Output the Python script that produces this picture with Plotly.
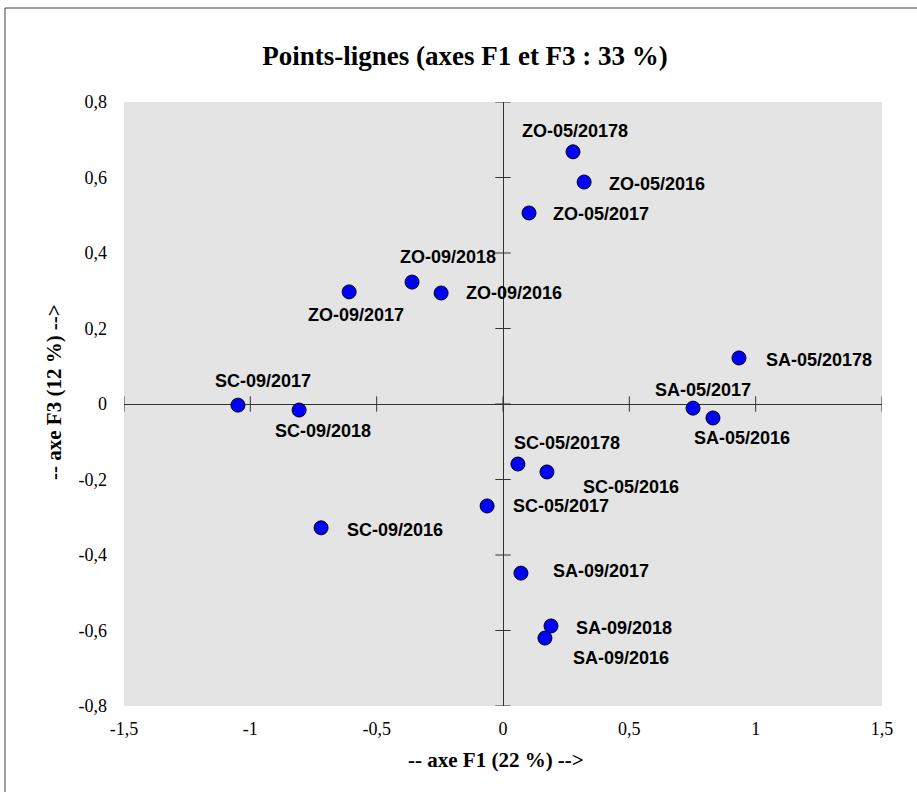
import plotly.graph_objects as go

labels = ["ZO-05/20178", "ZO-05/2016", "ZO-05/2017", "ZO-09/2018", "ZO-09/2016", "ZO-09/2017",
          "SA-05/20178", "SA-05/2017", "SA-05/2016", "SC-09/2017", "SC-09/2018",
          "SC-05/20178", "SC-05/2016", "SC-05/2017", "SC-09/2016",
          "SA-09/2017", "SA-09/2018", "SA-09/2016"]
f1 = [0.277, 0.321, 0.103, -0.360, -0.245, -0.609,
      0.934, 0.752, 0.831, -1.049, -0.807,
      0.059, 0.174, -0.063, -0.720,
      0.071, 0.190, 0.166]
f3 = [0.668, 0.588, 0.506, 0.323, 0.294, 0.297,
      0.122, -0.011, -0.037, -0.003, -0.016,
      -0.159, -0.180, -0.270, -0.328,
      -0.448, -0.588, -0.620]

x_ticks = [-1.5, -1, -0.5, 0, 0.5, 1, 1.5]
x_ticktext = ["-1,5", "-1", "-0,5", "0", "0,5", "1", "1,5"]
y_ticks = [-0.8, -0.6, -0.4, -0.2, 0, 0.2, 0.4, 0.6, 0.8]
y_ticktext = ["-0,8", "-0,6", "-0,4", "-0,2", "0", "0,2", "0,4", "0,6", "0,8"]

# label placement (anchor, pixel offsets)
label_pos = {
    "ZO-05/20178": ("center", 2, 21),
    "ZO-05/2016": ("left", 23, -2),
    "ZO-05/2017": ("left", 22, -1),
    "ZO-09/2018": ("center", 36, 25),
    "ZO-09/2016": ("left", 23, 0),
    "ZO-09/2017": ("center", 7, -23),
    "SA-05/20178": ("left", 25, -2),
    "SA-05/2017": ("center", 10, 18),
    "SA-05/2016": ("center", 29, -20),
    "SC-09/2017": ("center", 25, 24),
    "SC-09/2018": ("center", 24, -21),
    "SC-05/20178": ("center", 49, 21),
    "SC-05/2016": ("center", 84, -15),
    "SC-05/2017": ("left", 24, 0),
    "SC-09/2016": ("left", 24, -2),
    "SA-09/2017": ("left", 30, 2),
    "SA-09/2018": ("left", 23, -2),
    "SA-09/2016": ("left", 26, -20),
}

fig = go.Figure()

# crossing tick marks on the zero axes
fig.add_trace(go.Scatter(
    x=x_ticks, y=[0] * len(x_ticks), mode="markers",
    marker=dict(symbol="line-ns", size=11, line=dict(color="#333333", width=1)),
    hoverinfo="skip", showlegend=False))
fig.add_trace(go.Scatter(
    x=[0] * len(y_ticks), y=y_ticks, mode="markers",
    marker=dict(symbol="line-ew", size=11, line=dict(color="#333333", width=1)),
    hoverinfo="skip", showlegend=False))

fig.add_trace(go.Scatter(
    x=f1, y=f3, mode="markers", text=labels,
    marker=dict(size=14, color="#0000FF", line=dict(color="#000000", width=1)),
    showlegend=False))

for lab, xv, yv in zip(labels, f1, f3):
    anc, dx, dy = label_pos[lab]
    fig.add_annotation(x=xv, y=yv, text="<b>" + lab + "</b>", showarrow=False,
                       xanchor=anc, yanchor="middle", xshift=dx, yshift=dy,
                       font=dict(family="Liberation Sans, Arial", size=18, color="#000000"))

# axis titles
fig.add_annotation(x=(495.5 - 124) / 758, y=(706 - 760) / 604, xref="paper", yref="paper",
                   text="<b>-- axe F1 (22 %) --></b>", showarrow=False,
                   xanchor="center", yanchor="middle",
                   font=dict(family="Liberation Serif, Times New Roman", size=21, color="#000000"))
fig.add_annotation(x=(54 - 124) / 758, y=(706 - 392) / 604, xref="paper", yref="paper",
                   text="<b>-- axe F3 (12 %) --></b>", showarrow=False, textangle=-90,
                   xanchor="center", yanchor="middle",
                   font=dict(family="Liberation Serif, Times New Roman", size=21, color="#000000"))

# chart border (only left and top edges are inside the view)
fig.add_shape(type="rect", xref="paper", yref="paper",
              x0=(5 - 124) / 758, x1=1.2, y0=-0.5, y1=(706 - 8) / 604,
              line=dict(color="#404040", width=1), fillcolor="rgba(0,0,0,0)", layer="below")

fig.update_layout(
    width=917, height=792,
    margin=dict(l=124, r=35, t=102, b=86),
    paper_bgcolor="white", plot_bgcolor="#E4E4E4",
    separators=", ",
    title=dict(text="<b>Points-lignes (axes F1 et F3 : 33 %)</b>",
               x=465 / 917, xref="container", xanchor="center",
               y=1 - 56 / 792, yref="container", yanchor="middle",
               font=dict(family="Liberation Serif, Times New Roman", size=27, color="#000000")),
    font=dict(family="Liberation Serif, Times New Roman", size=18, color="#000000"),
)

fig.update_xaxes(range=[-1.5, 1.5], tickvals=x_ticks, ticktext=x_ticktext,
                 showgrid=False, zeroline=True, zerolinecolor="#333333", zerolinewidth=1,
                 showline=False, ticks="", ticklabelstandoff=10, automargin=False)
fig.update_yaxes(range=[-0.8, 0.8], tickvals=y_ticks, ticktext=y_ticktext,
                 showgrid=False, zeroline=True, zerolinecolor="#333333", zerolinewidth=1,
                 showline=False, ticks="", ticklabelstandoff=16, automargin=False)

fig.write_html("out.html", config={"displayModeBar": False},
               post_script="document.body.style.margin='0px';")
